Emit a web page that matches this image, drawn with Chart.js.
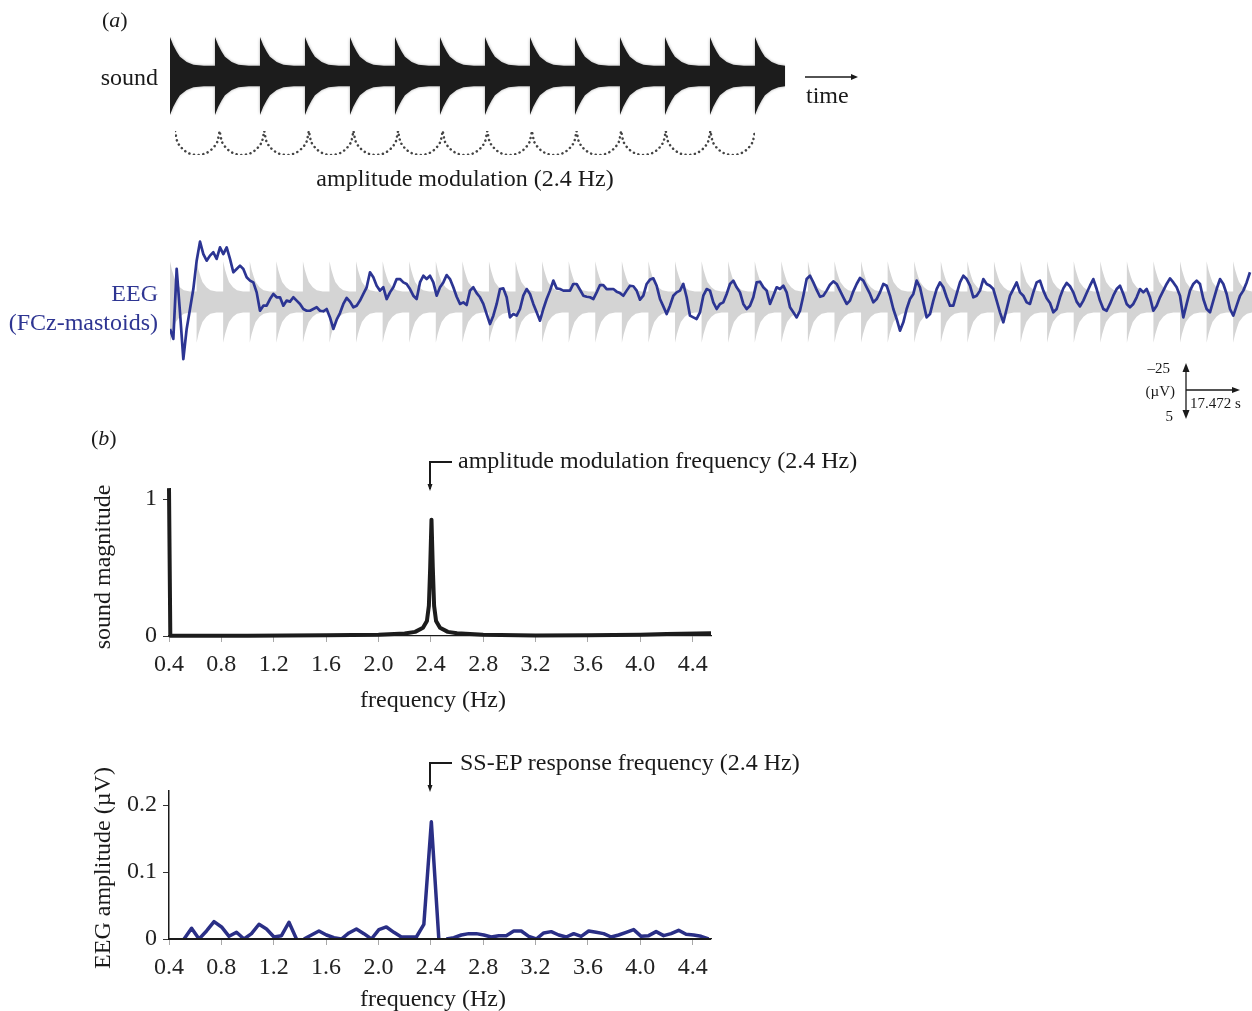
<!DOCTYPE html>
<html>
<head>
<meta charset="utf-8">
<script src="https://cdn.jsdelivr.net/npm/chart.js@4.4.0/dist/chart.umd.min.js"></script>
<style>
  html, body { margin: 0; padding: 0; background: #fff; }
  #page { position: relative; width: 1252px; height: 1011px; overflow: hidden; }
  canvas { position: absolute; }
  svg { position: absolute; left: 0; top: 0; font-family: "Liberation Serif", "DejaVu Serif", serif; }
</style>
</head>
<body>
<div id="page">
  <canvas id="sound" width="620" height="86" style="left:170px;top:33px"></canvas>
  <canvas id="arcs" width="590" height="34" style="left:170px;top:126px"></canvas>
  <canvas id="eeg" width="1082" height="140" style="left:170px;top:232px"></canvas>
  <canvas id="soundSpec" width="671" height="221" style="left:60px;top:465px"></canvas>
  <canvas id="eegSpec" width="671" height="219" style="left:60px;top:770px"></canvas>

  <svg width="1252" height="1011">
    <g fill="#1a1a1a" font-size="24">
      <text x="102" y="27" font-size="22">(<tspan font-style="italic">a</tspan>)</text>
      <text x="158" y="85" text-anchor="end">sound</text>
      <text x="806" y="103">time</text>
      <text x="465" y="186" text-anchor="middle">amplitude modulation (2.4 Hz)</text>
      <text x="91" y="445" font-size="22">(<tspan font-style="italic">b</tspan>)</text>
      <text x="458" y="468">amplitude modulation frequency (2.4 Hz)</text>
      <text x="433" y="707" text-anchor="middle">frequency (Hz)</text>
      <text x="460" y="770">SS-EP response frequency (2.4 Hz)</text>
      <text x="433" y="1006" text-anchor="middle">frequency (Hz)</text>
      <text transform="translate(110,567) rotate(-90)" text-anchor="middle">sound magnitude</text>
      <text transform="translate(110,868) rotate(-90)" text-anchor="middle">EEG amplitude (µV)</text>
    </g>
    <g fill="#2e3592" font-size="24" text-anchor="end">
      <text x="158" y="301">EEG</text>
      <text x="158" y="330">(FCz-mastoids)</text>
    </g>
    <g fill="#1a1a1a" font-size="15">
      <text x="1170" y="373" text-anchor="end">–25</text>
      <text x="1175" y="396" text-anchor="end">(µV)</text>
      <text x="1173" y="421" text-anchor="end">5</text>
      <text x="1190" y="408">17.472 s</text>
    </g>
    <g stroke="#1a1a1a" fill="none">
      <line x1="805" y1="77" x2="852" y2="77" stroke-width="1.3"/>
      <line x1="1186" y1="370" x2="1186" y2="416" stroke-width="1.3"/>
      <line x1="1186" y1="390" x2="1234" y2="390" stroke-width="1.3"/>
      <polyline points="430,489 430,462 452,462" stroke-width="2"/>
      <polyline points="430,789 430,763 452,763" stroke-width="2"/>
    </g>
    <g fill="#1a1a1a">
      <polygon points="858,77 851,74 851,80"/>
      <polygon points="1186,363 1182.5,372 1189.5,372"/>
      <polygon points="1186,419 1182.5,410 1189.5,410"/>
      <polygon points="1240,390 1232,387 1232,393"/>
      <polygon points="430,491 427.5,484 432.5,484"/>
      <polygon points="430,792 427.5,785 432.5,785"/>
    </g>
  </svg>
</div>

<script>
// one amplitude-modulation cycle of the sound envelope (phase 0..1 -> relative level)
const amRate = 2.4
const burstPhase = [0, 0.07, 0.15, 0.22, 0.37, 0.52, 0.75, 1.0]
const burstLevel = [1, 0.79, 0.62, 0.49, 0.36, 0.29, 0.26, 0.26]
const soundBursts = 14
const soundEnd = 13.67          // cycles shown in the sound trace
const eegBursts = 41
const eegBurstScale = 23.3      // grey sound overlay drawn in the EEG panel

// dotted arcs under the sound (one arc, phase -> depth)
const arcPhase = [0, 0.05, 0.1, 0.15, 0.2, 0.3, 0.4, 0.5, 0.6, 0.7, 0.8, 0.85, 0.9, 0.95, 1]
const arcDepth = [0, 0.44, 0.6, 0.71, 0.8, 0.92, 0.98, 1, 0.98, 0.92, 0.8, 0.71, 0.6, 0.44, 0]
const arcCount = 13

// EEG trace, µV (negative up), one sample every eegStep seconds
const eegStep = 0.052254
const eegUV = [
  15.4, 21.1, -18.9, 5.9, 32.6, 15.4, 4.0, -7.4, -23.6, -34.5, -27.4, -23.6, -26.5, -28.4, -24.6, -31.2,
  -27.4, -31.2, -24.6, -17.0, -18.9, -20.8, -18.9, -14.1, -12.2, -11.2, -5.5, 5.0, 2.1, 2.1, -1.7, -4.6,
  -2.7, -2.7, 2.1, -0.8, -0.2, -2.7, -0.8, 1.1, 4.0, 5.0, 5.0, 4.0, 3.0, 5.0, 5.3, 4.0,
  8.8, 15.4, 10.1, 6.3, 1.1, -2.3, -0.2, 3.0, 2.1, -0.8, -4.6, -8.4, -17.0, -14.1, -9.3, -6.5,
  -8.4, -1.7, -5.5, -8.4, -13.1, -13.1, -11.2, -10.3, -7.4, -3.6, -1.7, -11.2, -15.0, -13.1, -15.0, -11.2,
  -3.6, -8.4,
  -11.2, -15.4, -13.1, -8.4, -3.0, 1.1, 0.2, 1.7, -6.5, -8.4, -5.1, -2.7, 1.1, 6.9, 12.6, 7.8,
  1.1, -7.4, -7.8, -2.7, 8.8, 6.9, 7.8, 4.0, -3.6, -7.4, -4.6, 1.1, 5.9, 10.7, 4.0, -1.7,
  -6.5, -12.2, -7.8, -7.4, -6.5, -6.5, -6.5, -10.3, -10.3, -7.0, -3.6, -3.0, -2.7, -1.7, -5.5, -9.7,
  -9.7, -7.4, -7.4, -7.4, -5.9, -5.1, -3.6, -6.5, -9.3, -9.0, -6.5, -1.3, -3.6, -10.3, -12.8, -13.5,
  -9.3, -1.7, 2.5, 6.9, 2.1, -3.6, -5.5, -6.5, -10.3, -2.7, 7.8, 8.8, 9.7, 5.9, -3.6, -7.4,
  -6.5,
  0.2, 4.0, 1.1, 0.2, -4.6, -10.3, -12.2, -8.4, -5.5, 1.1, 4.0, 2.1, -2.7, -11.2, -11.6, -8.4,
  -6.5, 1.1, -3.6, -8.4, -7.4, -9.3, -5.5, 3.0, 5.9, 8.8, 5.0, -3.6, -13.1, -15.0, -11.2, -6.9,
  -3.0, -3.6, -6.5, -9.9, -11.8, -10.3, -6.5, -2.7, 1.1, -0.8, -6.1, -10.3, -13.7, -12.2, -8.4, -4.6,
  0.2, -1.7, -5.5, -10.3, -9.3, -3.6, 4.0, 9.7, 16.4, 11.6, 4.0, -1.7, -4.6, -12.2, -8.4, 0.2,
  8.8, 6.9, -0.8, -7.4, -11.2, -8.4, -2.7, 2.1, 2.1, -4.6, -11.2, -15.0, -13.1, -9.3, -2.7, -3.6,
  -6.5,
  -13.1, -10.3, -9.3, -7.4, -0.8, 5.9, 11.6, 4.0, -3.6, -7.4, -11.2, -5.5, -3.6, 0.2, 1.1, -5.5,
  -11.2, -12.2, -6.5, -2.1, 0.6, 5.9, 4.0, -2.7, -7.8, -10.9, -9.0, -5.5, -0.2, 2.5, -0.8, -5.1,
  -9.3, -13.1, -7.4, -0.8, 4.0, 5.0, 1.1, -3.6, -7.4, -9.3, -4.6, 1.1, 3.0, 1.1, -2.7, -7.4,
  -5.5, -7.4, -2.7, 5.0, 2.1, -2.7, -6.5, -10.3, -13.5, -11.2, -8.4, -3.6, 8.8, 1.1, -6.5, -10.3,
  -12.2, -10.3, -1.7, 4.0, 5.9, -0.8, -7.4, -13.1, -10.3, -4.6, 4.0, 7.8, 2.1, -3.6, -6.5, -11.2,
  -17.0
]

// panel (b)
const freqTicks = [0.4, 0.8, 1.2, 1.6, 2.0, 2.4, 2.8, 3.2, 3.6, 4.0, 4.4]
const freqTickLabels = ["0.4", "0.8", "1.2", "1.6", "2.0", "2.4", "2.8", "3.2", "3.6", "4.0", "4.4"]

const soundFreqs = [0.4, 0.41, 1.0, 1.6, 2.0, 2.2, 2.28, 2.34, 2.37, 2.385, 2.395, 2.405, 2.415, 2.425, 2.44, 2.47, 2.53, 2.6, 2.8, 3.2, 3.6, 4.0, 4.2, 4.54]
const soundMag = [1.08, 0.002, 0.002, 0.006, 0.01, 0.018, 0.03, 0.06, 0.11, 0.22, 0.5, 0.85, 0.5, 0.22, 0.11, 0.06, 0.03, 0.02, 0.01, 0.004, 0.006, 0.01, 0.014, 0.02]
const soundTicks = [0, 1]
const soundTickLabels = ["0", "1"]

const freqStep = 1 / 17.472
const eegFirstBin = 7
const eegAmp = [
  0, 0, 0, 0.016, 0, 0.012, 0.026, 0.018, 0.004, 0.01, 0, 0.008, 0.022, 0.015, 0.003, 0.005,
  0.025, 0, 0, 0.006, 0.012, 0.006, 0.002, 0, 0.009, 0.015, 0.008, 0, 0.014, 0.018, 0.01, 0.003,
  0.003, 0.003, 0.022, 0.175, 0, 0, 0.002, 0.006, 0.008, 0.008, 0.006, 0.003, 0.005, 0.005, 0.012, 0.012,
  0.004, 0, 0.009, 0.011, 0.006, 0.003, 0.008, 0.004, 0.012, 0.01, 0.008, 0.003, 0.006, 0.01, 0.014, 0.004,
  0.005, 0.011, 0.005, 0.008, 0.013, 0.007, 0.006, 0.004, 0
]
const eegAmpTicks = [0, 0.1, 0.2]
const eegAmpTickLabels = ["0", "0.1", "0.2"]

const ink = "#1a1a1a"
const eegBlue = "#2c3593"
const tickFont = { family: "Liberation Serif", size: 24 }

Chart.defaults.animation = false
Chart.defaults.responsive = false
Chart.defaults.plugins.legend.display = false
Chart.defaults.plugins.tooltip.enabled = false
Chart.defaults.elements.point.radius = 0

const envelope = (cycles, end, scale) => {
  const upper = []
  const lower = []
  for (let k = 0; k < cycles; k++) {
    burstPhase.forEach((p, j) => {
      if (k + p > end) return
      upper.push({ x: k + p, y: burstLevel[j] * scale })
      lower.push({ x: k + p, y: -burstLevel[j] * scale })
    })
  }
  const last = burstLevel[burstLevel.length - 1] * scale
  upper.push({ x: end, y: last })
  lower.push({ x: end, y: -last })
  return { upper, lower }
}

const hiddenAxis = (min, max, reverse) => ({ type: "linear", display: false, min, max, reverse: !!reverse })

// sound waveform
const softEdge = {
  id: "softEdge",
  beforeDatasetsDraw: c => { c.ctx.save(); c.ctx.shadowColor = "rgba(0,0,0,0.35)"; c.ctx.shadowBlur = 3 },
  afterDatasetsDraw: c => { c.ctx.restore() }
}
const snd = envelope(soundBursts, soundEnd, 1)
new Chart(document.getElementById("sound"), {
  type: "line",
  data: {
    datasets: [
      { data: snd.upper, borderWidth: 0, borderColor: "rgba(0,0,0,0)", backgroundColor: "#1c1c1c", fill: "+1" },
      { data: snd.lower, borderWidth: 0, borderColor: "rgba(0,0,0,0)", fill: false }
    ]
  },
  options: { layout: { padding: 0 }, scales: { x: hiddenAxis(0, 620 / 45), y: hiddenAxis(-1.1, 1.1) } },
  plugins: [softEdge]
})

// dotted modulation arcs
const arcPoints = []
for (let a = 0; a < arcCount; a++) {
  arcPhase.forEach((p, j) => arcPoints.push({ x: a + p, y: arcDepth[j] }))
}
new Chart(document.getElementById("arcs"), {
  type: "line",
  data: { datasets: [{ data: arcPoints, borderColor: "#444", borderWidth: 2.5, borderDash: [0.1, 4.6], borderCapStyle: "round", fill: false, tension: 0.3 }] },
  options: { layout: { padding: 5 }, scales: { x: hiddenAxis(0, arcCount), y: hiddenAxis(0, 1, true) } }
})

// EEG trace over the grey sound envelope
const bg = envelope(eegBursts, 1082 / 63.79 * amRate, eegBurstScale)
const toSec = p => ({ x: p.x / amRate, y: p.y })
new Chart(document.getElementById("eeg"), {
  type: "line",
  data: {
    datasets: [
      { data: eegUV.map((v, i) => ({ x: i * eegStep, y: v })), borderColor: eegBlue, borderWidth: 2.7, fill: false, borderJoinStyle: "round" },
      { data: bg.upper.map(toSec), borderWidth: 0, borderColor: "rgba(0,0,0,0)", backgroundColor: "#d4d4d4", fill: "+1" },
      { data: bg.lower.map(toSec), borderWidth: 0, borderColor: "rgba(0,0,0,0)", fill: false }
    ]
  },
  options: { layout: { padding: 0 }, scales: { x: hiddenAxis(0, 1082 / 63.79), y: hiddenAxis(-40, 40, true) } }
})

// spectra
const freqAxis = () => ({
  type: "linear", min: 0.4, max: 4.54,
  afterBuildTicks: s => { s.ticks = freqTicks.map(v => ({ value: v })) },
  ticks: { callback: (v, i) => freqTickLabels[i], font: tickFont, color: "#222", padding: 8, maxRotation: 0, autoSkip: false },
  grid: { drawOnChartArea: false, tickLength: 6, color: "#a8a8a8" },
  border: { display: true, color: ink, width: 1.3 },
  afterFit: s => { s.height = 50 }
})
const valueAxis = (max, ticks, labels, showLine) => ({
  type: "linear", min: 0, max,
  afterBuildTicks: s => { s.ticks = ticks.map(v => ({ value: v })) },
  ticks: { callback: (v, i) => labels[i], font: tickFont, color: "#222", padding: 6 },
  grid: { drawOnChartArea: false, tickLength: 6, color: "#333" },
  border: { display: showLine, color: ink, width: 1.5 },
  afterFit: s => { s.width = 109 }
})
const padding = { top: 20, right: 20, left: 0, bottom: 0 }

new Chart(document.getElementById("soundSpec"), {
  type: "line",
  data: { datasets: [{ data: soundFreqs.map((f, i) => ({ x: f, y: soundMag[i] })), borderColor: "#1c1c1c", borderWidth: 4, borderJoinStyle: "round", fill: false, clip: 6 }] },
  options: { layout: { padding }, scales: { x: freqAxis(), y: valueAxis(1.1, soundTicks, soundTickLabels, false) } }
})

const baselineOnTop = {
  id: "baselineOnTop",
  afterDatasetsDraw: chart => {
    const { ctx, chartArea, scales } = chart
    const y = scales.y.getPixelForValue(0)
    ctx.save()
    ctx.strokeStyle = ink
    ctx.lineWidth = 2
    ctx.beginPath()
    ctx.moveTo(chartArea.left, y)
    ctx.lineTo(chartArea.right, y)
    ctx.stroke()
    ctx.restore()
  }
}
new Chart(document.getElementById("eegSpec"), {
  type: "line",
  data: {
    datasets: [{
      data: eegAmp.map((a, k) => ({ x: (eegFirstBin + k) * freqStep, y: a })),
      borderColor: "#2a2f86", borderWidth: 3.5, borderJoinStyle: "round", fill: false,
      segment: { borderColor: c => (c.p0.parsed.y === 0 && c.p1.parsed.y === 0) ? "rgba(0,0,0,0)" : undefined }
    }]
  },
  options: { layout: { padding }, scales: { x: freqAxis(), y: valueAxis(0.222, eegAmpTicks, eegAmpTickLabels, true) } },
  plugins: [baselineOnTop]
})
</script>
</body>
</html>
